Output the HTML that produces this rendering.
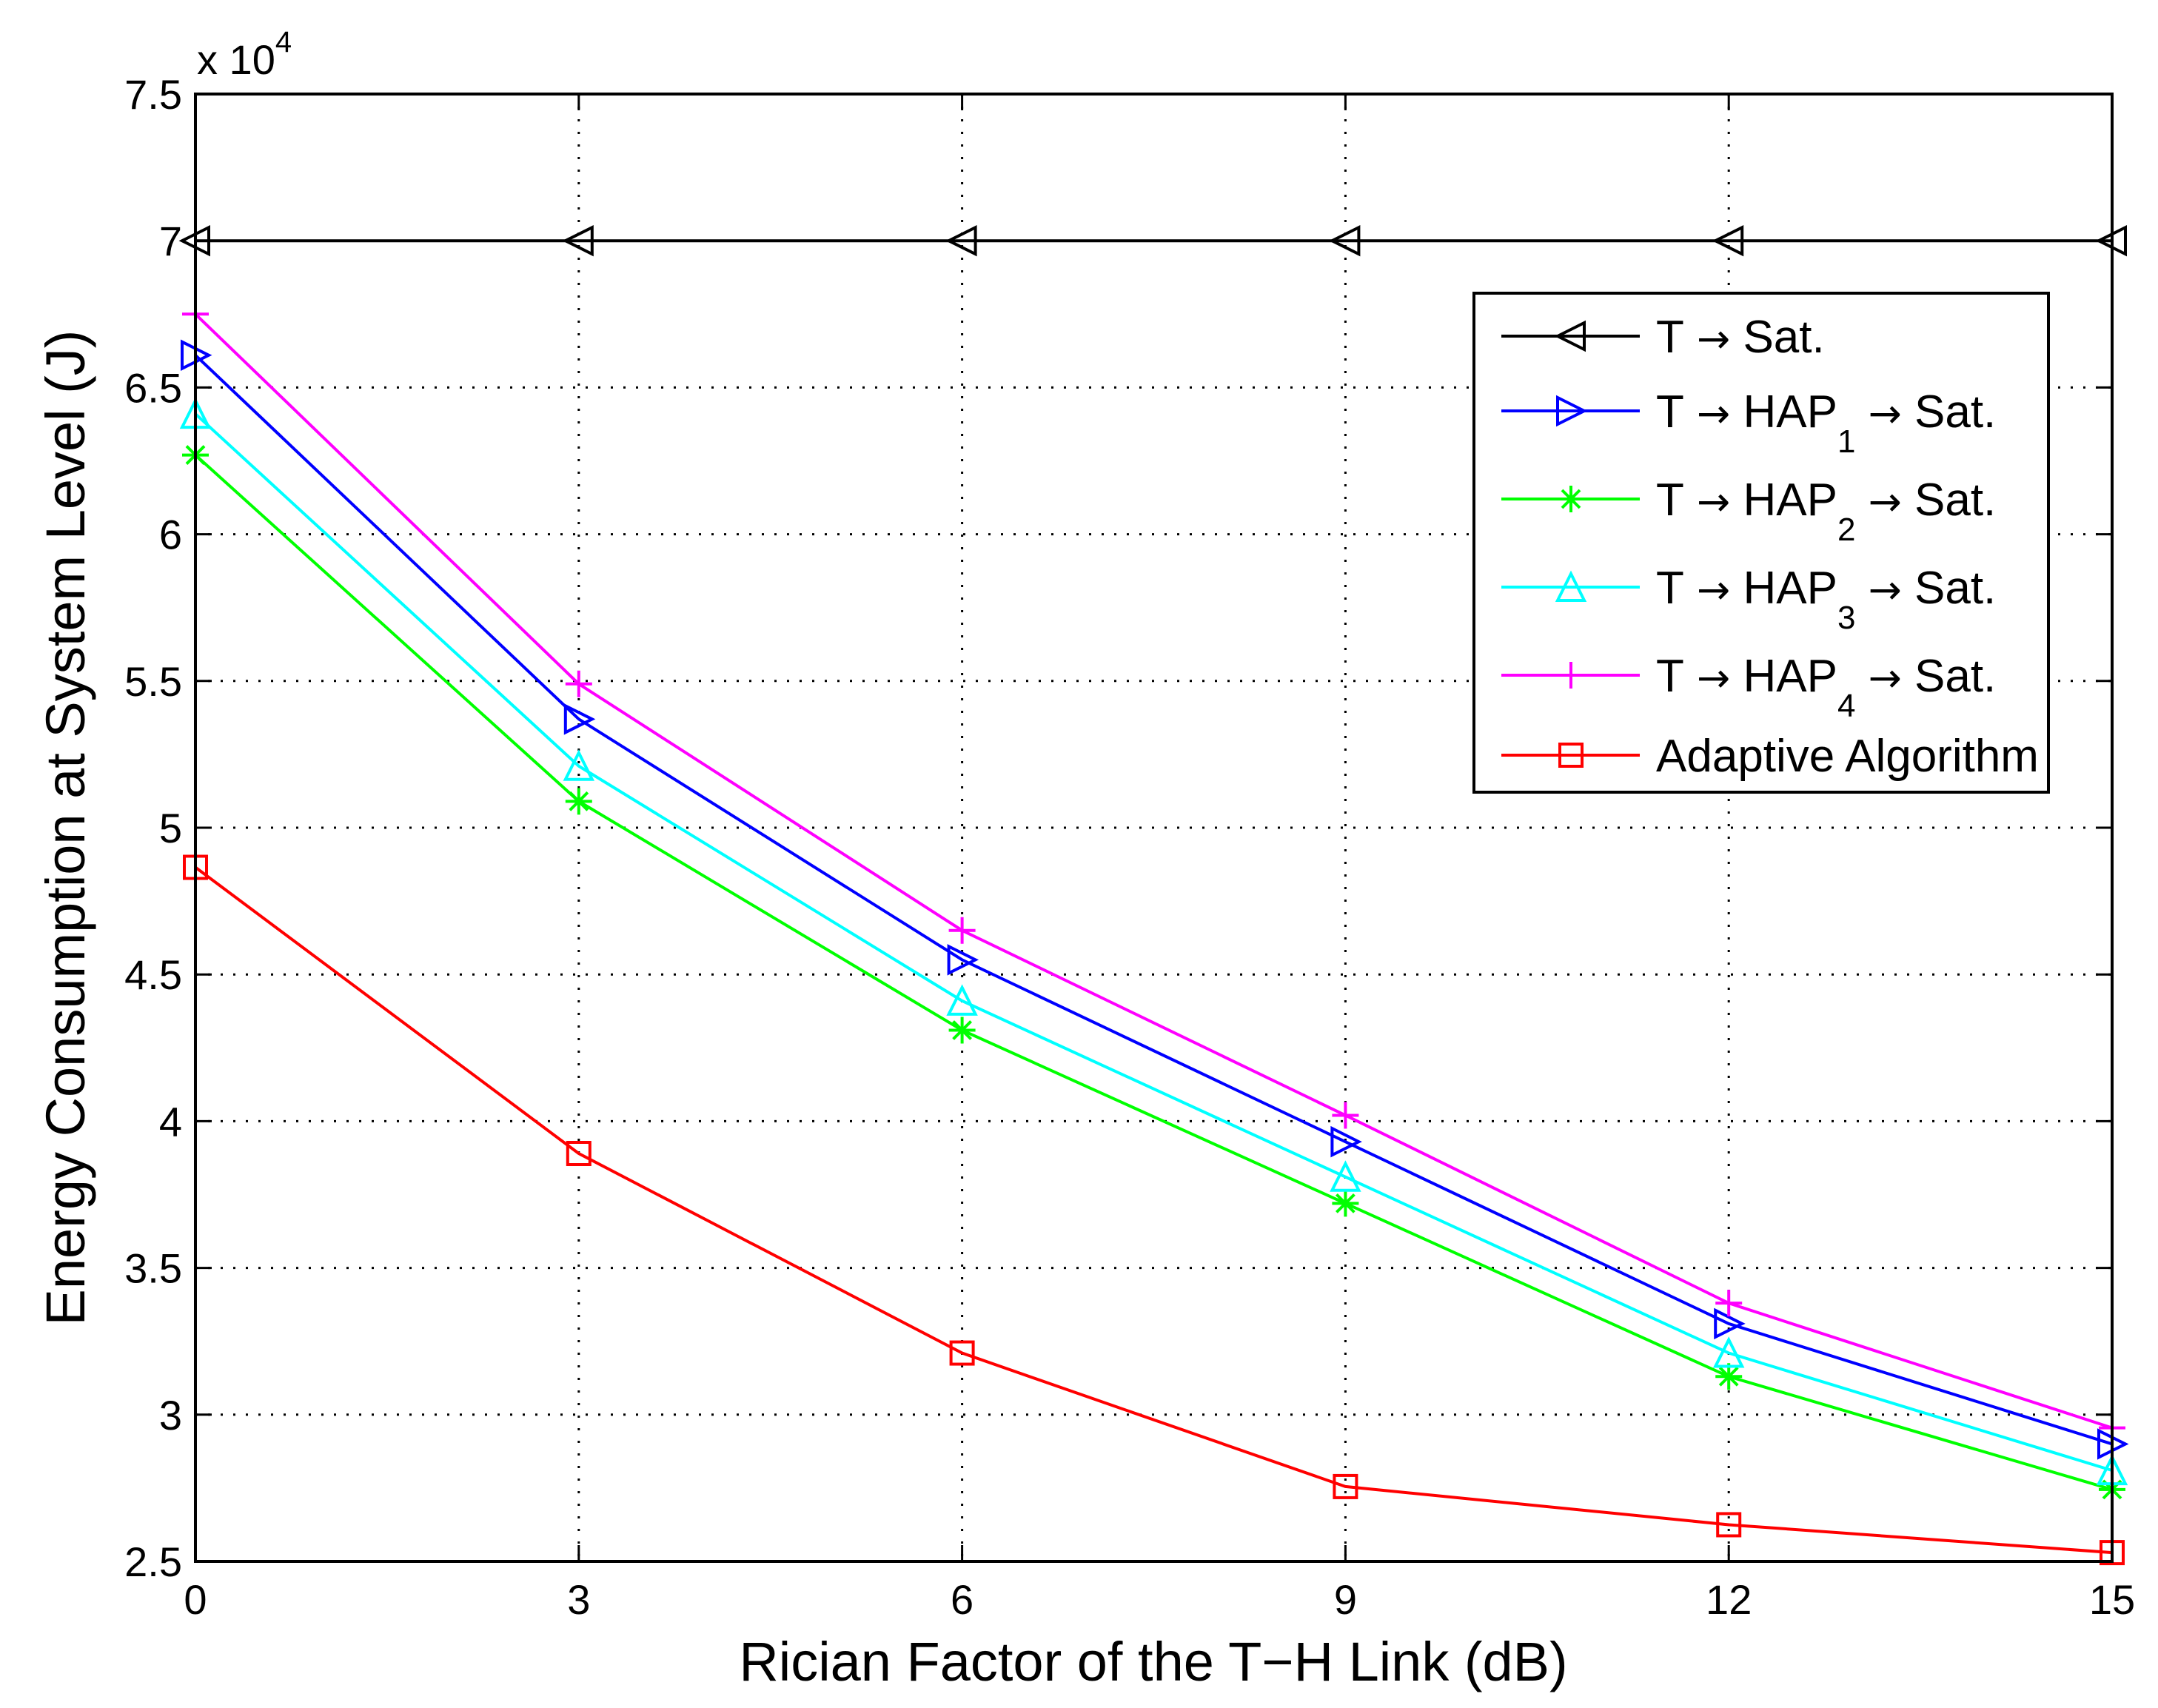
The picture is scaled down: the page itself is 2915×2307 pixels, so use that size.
<!DOCTYPE html>
<html><head><meta charset="utf-8"><style>
html,body{margin:0;padding:0;background:#fff}
svg{display:block;font-family:"Liberation Sans",Arial,sans-serif}
.arr{font-family:"DejaVu Sans",sans-serif}
</style></head><body>
<svg id="chart" width="2915" height="2307" viewBox="0 0 2915 2307" xmlns="http://www.w3.org/2000/svg">
<rect width="2915" height="2307" fill="#fff"/>
<g id="grid"></g>
<g id="series"></g>
<g id="axes"></g>
<g id="legend"></g>
</svg>
<script>
const xValues = [0, 3, 6, 9, 12, 15];
const xTicks = [0, 3, 6, 9, 12, 15];
const yTicks = [2.5, 3, 3.5, 4, 4.5, 5, 5.5, 6, 6.5, 7, 7.5];
const yTickLabels = ["2.5","3","3.5","4","4.5","5","5.5","6","6.5","7","7.5"];
const tSat = [7.0, 7.0, 7.0, 7.0, 7.0, 7.0];
const hap1 = [6.61, 5.37, 4.55, 3.93, 3.31, 2.90];
const hap2 = [6.27, 5.09, 4.31, 3.72, 3.13, 2.745];
const hap3 = [6.41, 5.21, 4.41, 3.81, 3.21, 2.81];
const hap4 = [6.75, 5.49, 4.65, 4.02, 3.38, 2.955];
const adaptive = [4.865, 3.89, 3.21, 2.755, 2.625, 2.53];

const L=264, R=2853, T=127, B=2109;
const xs = v => L + (v - 0) / 15 * (R - L);
const ys = v => B - (v - 2.5) / 5 * (B - T);
const NS = "http://www.w3.org/2000/svg";
function mk(tag, attrs, parent){const e=document.createElementNS(NS,tag);for(const k in attrs)e.setAttribute(k,attrs[k]);parent.appendChild(e);return e;}
const grid=document.getElementById('grid'), axes=document.getElementById('axes'), ser=document.getElementById('series'), leg=document.getElementById('legend');

xTicks.forEach((t,i)=>{
  if(i>0&&i<xTicks.length-1){const g=mk('line',{x1:xs(t),x2:xs(t),y1:T,y2:B,stroke:'#000','stroke-width':3,'stroke-dasharray':'3 14'},grid);
  
  }
  mk('line',{x1:xs(t),x2:xs(t),y1:B,y2:B-22,stroke:'#000','stroke-width':3},axes);
  mk('line',{x1:xs(t),x2:xs(t),y1:T,y2:T+22,stroke:'#000','stroke-width':3},axes);
  const tx=mk('text',{x:xs(t),y:2180,'font-size':56,'text-anchor':'middle'},axes);tx.textContent=t;
  
  
});
yTicks.forEach((t,i)=>{
  if(i>0&&i<yTicks.length-1){const g=mk('line',{x1:L,x2:R,y1:ys(t),y2:ys(t),stroke:'#000','stroke-width':3,'stroke-dasharray':'3 14'},grid);
  
  }
  mk('line',{x1:L,x2:L+22,y1:ys(t),y2:ys(t),stroke:'#000','stroke-width':3},axes);
  mk('line',{x1:R,x2:R-22,y1:ys(t),y2:ys(t),stroke:'#000','stroke-width':3},axes);
  const tx=mk('text',{x:246,y:ys(t)+20,'font-size':56,'text-anchor':'end'},axes);tx.textContent=yTickLabels[i];
  
  
});
const frame=mk('rect',{x:L,y:T,width:R-L,height:B-T,fill:'none',stroke:'#000','stroke-width':4},axes);


const ex=mk('text',{x:266,y:100,'font-size':56},axes);ex.innerHTML='x 10<tspan dy="-30" font-size="40">4</tspan>';


const xl=mk('text',{x:1558,y:2270,'font-size':74,'text-anchor':'middle'},axes);xl.textContent='Rician Factor of the T\u2212H Link (dB)';


const yl=mk('text',{x:0,y:0,'font-size':74,'text-anchor':'middle',transform:'translate(114,1118) rotate(-90)'},axes);yl.textContent='Energy Consumption at System Level (J)';



function marker(type,x,y,color,parent){
  const s=18, a={fill:'none',stroke:color,'stroke-width':4};
  let e;
  if(type==='left') e=mk('polygon',Object.assign({points:`${x-s},${y} ${x+s},${y-s} ${x+s},${y+s}`},a),parent);
  else if(type==='right') e=mk('polygon',Object.assign({points:`${x+s},${y} ${x-s},${y-s} ${x-s},${y+s}`},a),parent);
  else if(type==='up') e=mk('polygon',Object.assign({points:`${x},${y-s} ${x-s},${y+s} ${x+s},${y+s}`},a),parent);
  else if(type==='square') e=mk('rect',Object.assign({x:x-15,y:y-15,width:30,height:30},a),parent);
  else if(type==='plus') e=mk('path',Object.assign({d:`M${x-s},${y}H${x+s}M${x},${y-s}V${y+s}`},a),parent);
  else if(type==='star') e=mk('path',Object.assign({d:`M${x-s},${y}H${x+s}M${x},${y-s}V${y+s}M${x-12},${y-12}L${x+12},${y+12}M${x-12},${y+12}L${x+12},${y-12}`},a),parent);
  return e;
}
const seriesDefs=[
  {name:'series-t-sat',data:tSat,color:'#000',m:'left'},
  {name:'series-hap1',data:hap1,color:'#0000ff',m:'right'},
  {name:'series-hap2',data:hap2,color:'#00ff00',m:'star'},
  {name:'series-hap3',data:hap3,color:'#00ffff',m:'up'},
  {name:'series-hap4',data:hap4,color:'#ff00ff',m:'plus'},
  {name:'series-adaptive',data:adaptive,color:'#ff0000',m:'square'}
];
seriesDefs.forEach(sd=>{
  const g=mk('g',{},ser);
  
  
  const pts=sd.data.map((v,i)=>xs(xValues[i])+','+ys(v)).join(' ');
  mk('polyline',{points:pts,fill:'none',stroke:sd.color,'stroke-width':4},g);
  sd.data.forEach((v,i)=>{const m=marker(sd.m,xs(xValues[i]),ys(v),sd.color,g);
    
    });
});

const lb=mk('rect',{x:1991,y:396,width:776,height:674,fill:'#fff',stroke:'#000','stroke-width':4},leg);


const legRows=[454,555,674,793,912,1020];
const legLabels=[['T',''],['T','1'],['T','2'],['T','3'],['T','4'],['Adaptive Algorithm','']];
const A='<tspan class="arr" font-size="54"> \u2192 </tspan>';
seriesDefs.forEach((sd,i)=>{
  const y=legRows[i];
  const g=mk('g',{},leg);
  
  
  mk('line',{x1:2028,x2:2215,y1:y,y2:y,stroke:sd.color,'stroke-width':4},g);
  marker(sd.m,2122,y,sd.color,g);
  const t=mk('text',{x:2237,y:y+22,'font-size':62},g);
  if(legLabels[i][1]) t.innerHTML='T'+A+'HAP<tspan dy="34" font-size="44">'+legLabels[i][1]+'</tspan><tspan dy="-34">'+A+'</tspan>Sat.';
  else if(i===0) t.innerHTML='T'+A+'Sat.';
  else t.textContent=legLabels[i][0];
});
</script>
</body></html>
